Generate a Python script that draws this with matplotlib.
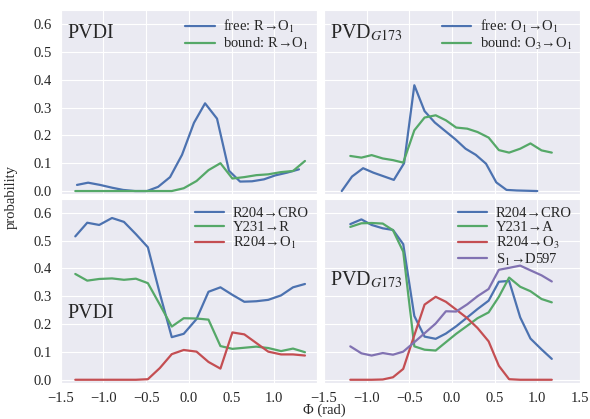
import matplotlib
matplotlib.use("Agg")
import matplotlib.pyplot as plt
import seaborn as sns

# phi grids (rad) and probabilities
phi_pvdi_free = [-1.31, -1.18, -1.04, -0.90, -0.77, -0.63, -0.49, -0.36, -0.22, -0.08,
                 0.06, 0.19, 0.33, 0.47, 0.60, 0.74, 0.88, 1.01, 1.15, 1.29]
phi_pvdi = [-1.33, -1.19, -1.05, -0.90, -0.76, -0.62, -0.48, -0.34, -0.20, -0.06,
            0.09, 0.23, 0.37, 0.51, 0.65, 0.79, 0.93, 1.08, 1.22, 1.36]
phi_g173_free = [-1.29, -1.17, -1.04, -0.92, -0.80, -0.68, -0.56, -0.44, -0.32, -0.20,
                 -0.08, 0.04, 0.16, 0.28, 0.40, 0.52, 0.64, 0.76, 0.88, 1.00]
phi_g173 = [-1.19, -1.06, -0.94, -0.81, -0.69, -0.57, -0.44, -0.32, -0.19, -0.07,
            0.05, 0.18, 0.30, 0.43, 0.55, 0.67, 0.80, 0.92, 1.05, 1.17]

# top left: PVDI
pvdi_free = [0.022, 0.030, 0.022, 0.012, 0.004, 0.0, 0.0, 0.015, 0.05, 0.13,
             0.245, 0.315, 0.26, 0.073, 0.034, 0.035, 0.042, 0.056, 0.066, 0.078]
pvdi_bound = [0, 0, 0, 0, 0, 0, 0, 0, 0, 0.01,
              0.036, 0.075, 0.10, 0.045, 0.05, 0.057, 0.06, 0.068, 0.072, 0.108]

# top right: PVD G173
g173_free = [0.0, 0.052, 0.082, 0.066, 0.053, 0.04, 0.1, 0.38, 0.287, 0.246,
             0.216, 0.186, 0.152, 0.13, 0.098, 0.031, 0.004, 0.002, 0.001, 0.0]
g173_bound = [0.126, 0.120, 0.129, 0.117, 0.111, 0.102, 0.218, 0.264, 0.272, 0.254,
              0.228, 0.224, 0.212, 0.192, 0.147, 0.138, 0.152, 0.171, 0.146, 0.138]

# bottom left: PVDI contacts
pvdi_r204_cro = [0.515, 0.564, 0.556, 0.581, 0.567, 0.523, 0.476, 0.31, 0.153, 0.165,
                 0.218, 0.316, 0.332, 0.305, 0.28, 0.282, 0.287, 0.303, 0.332, 0.344]
pvdi_y231_r = [0.38, 0.356, 0.362, 0.364, 0.359, 0.363, 0.347, 0.27, 0.191, 0.221,
               0.22, 0.216, 0.121, 0.111, 0.115, 0.119, 0.114, 0.103, 0.112, 0.099]
pvdi_r204_o1 = [0, 0, 0, 0, 0, 0, 0.002, 0.042, 0.092, 0.107,
                0.101, 0.064, 0.04, 0.17, 0.163, 0.132, 0.101, 0.091, 0.091, 0.087]

# bottom right: PVD G173 contacts
g173_r204_cro = [0.559, 0.576, 0.556, 0.544, 0.538, 0.487, 0.229, 0.155, 0.147, 0.166,
                 0.192, 0.224, 0.254, 0.284, 0.352, 0.355, 0.224, 0.148, 0.109, 0.075]
g173_y231_a = [0.549, 0.562, 0.563, 0.561, 0.537, 0.46, 0.12, 0.108, 0.105, 0.135,
               0.165, 0.194, 0.221, 0.242, 0.298, 0.367, 0.334, 0.318, 0.29, 0.278]
g173_r204_o3 = [0, 0, 0, 0.001, 0.009, 0.039, 0.16, 0.27, 0.298, 0.28,
                0.252, 0.221, 0.186, 0.138, 0.05, 0.002, 0, 0, 0, 0]
g173_s1_d597 = [0.12, 0.095, 0.087, 0.096, 0.09, 0.101, 0.135, 0.167, 0.202, 0.246,
                0.245, 0.271, 0.3, 0.326, 0.395, 0.402, 0.41, 0.393, 0.375, 0.353]

x_ticks = [-1.5, -1.0, -0.5, 0.0, 0.5, 1.0, 1.5]
y_ticks = [0.0, 0.1, 0.2, 0.3, 0.4, 0.5, 0.6]

blue, green, red, purple = "#4C72B0", "#55A868", "#C44E52", "#8172B2"

sns.set_style("darkgrid")
plt.rcParams["font.family"] = ["Liberation Serif", "DejaVu Serif"]
plt.rcParams["mathtext.fontset"] = "stix"
plt.rcParams["axes.unicode_minus"] = True
plt.rcParams["lines.linewidth"] = 1.6
fs = 10.5

fig, axes = plt.subplots(2, 2, sharey=True, figsize=(5.9, 4.19), dpi=100)
fig.subplots_adjust(left=0.103, right=0.983, top=0.976, bottom=0.087,
                    wspace=0.027, hspace=0.027)
ax_tl, ax_tr = axes[0]
ax_bl, ax_br = axes[1]

ax_tl.plot(phi_pvdi_free, pvdi_free, color=blue, label="free: R→O$_1$")
ax_tl.plot(phi_pvdi, pvdi_bound, color=green, label="bound: R→O$_1$")
ax_tl.text(0.027, 0.875, "PVDI", transform=ax_tl.transAxes, fontsize=14.5, va="center")

ax_tr.plot(phi_g173_free, g173_free, color=blue, label="free: O$_1$→O$_1$")
ax_tr.plot(phi_g173, g173_bound, color=green, label="bound: O$_3$→O$_1$")
ax_tr.text(0.025, 0.875, "PVD$_{G173}$", transform=ax_tr.transAxes, fontsize=14.5, va="center")

ax_bl.plot(phi_pvdi, pvdi_r204_cro, color=blue, label="R204→CRO")
ax_bl.plot(phi_pvdi, pvdi_y231_r, color=green, label="Y231→R")
ax_bl.plot(phi_pvdi, pvdi_r204_o1, color=red, label="R204→O$_1$")
ax_bl.text(0.027, 0.375, "PVDI", transform=ax_bl.transAxes, fontsize=14.5, va="center")

ax_br.plot(phi_g173, g173_r204_cro, color=blue, label="R204→CRO")
ax_br.plot(phi_g173, g173_y231_a, color=green, label="Y231→A")
ax_br.plot(phi_g173, g173_r204_o3, color=red, label="R204→O$_3$")
ax_br.plot(phi_g173, g173_s1_d597, color=purple, label="S$_1$→D597")
ax_br.text(0.025, 0.56, "PVD$_{G173}$", transform=ax_br.transAxes, fontsize=14.5, va="center")

for ax in axes.flat:
    ax.set_xlim(-1.5, 1.5)
    ax.set_ylim(-0.01, 0.65)
    ax.set_xticks(x_ticks)
    ax.set_yticks(y_ticks)
    ax.tick_params(labelsize=fs, colors=".15", pad=3)
    ax.legend(loc="upper right", frameon=False, fontsize=fs, borderaxespad=0.15,
              handlelength=2.0, handletextpad=0.6, labelspacing=0.05)

for ax in axes[0]:
    ax.tick_params(labelbottom=False)
# the left panel's last label would collide with the right panel's first one
ax_bl.set_xticklabels([f"{t:.1f}".replace("-", "\u2212") for t in x_ticks[:-1]] + [""])

fig.text(0.549, 0.004, "Φ (rad)", ha="center", va="bottom", fontsize=fs, color=".15")
fig.text(0.008, 0.53, "probability", rotation=90, ha="left", va="center",
         fontsize=fs, color=".15")

fig.savefig("out.png", dpi=100)
